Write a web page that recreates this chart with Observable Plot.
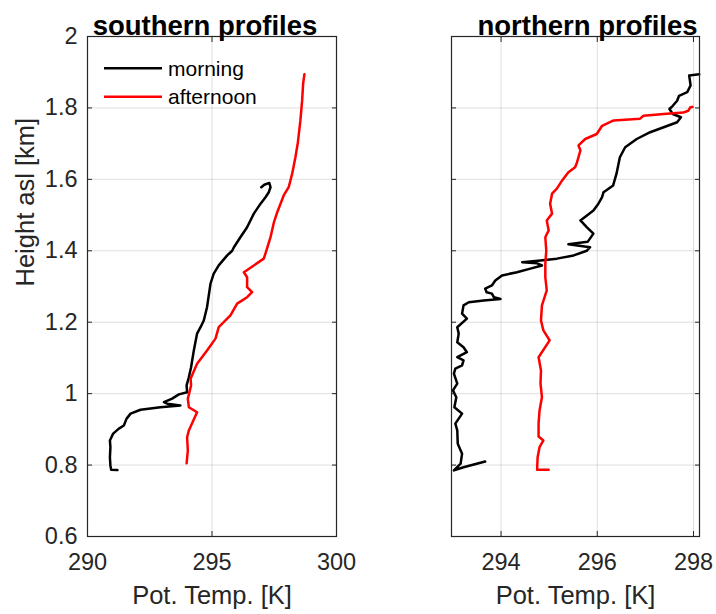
<!DOCTYPE html>
<html><head><meta charset="utf-8">
<script src="https://cdn.jsdelivr.net/npm/d3@7"></script>
<script src="https://cdn.jsdelivr.net/npm/@observablehq/plot@0.6"></script>
<style>
body{margin:0;background:#fff;}
#chart{position:relative;width:716px;height:614px;font-family:"Liberation Sans",Arial,Helvetica,sans-serif;}
#chart > svg{position:absolute;top:0;}
#legend{position:absolute;left:0;top:0;}
</style></head><body><div id="chart"></div>
<script>
// [potential temperature K, height asl km]
const southMorning = [[291.2,0.786],[290.95,0.787],[290.92,0.799],[290.9,0.822],[290.92,0.85],[290.9,0.869],[291.03,0.888],[291.26,0.902],[291.46,0.911],[291.57,0.93],[291.73,0.944],[292.13,0.955],[292.93,0.962],[293.73,0.967],[293.2,0.972],[293.07,0.976],[293.4,0.986],[293.67,0.998],[294.0,1.004],[293.98,1.023],[294.07,1.046],[294.16,1.074],[294.27,1.121],[294.4,1.168],[294.54,1.186],[294.67,1.205],[294.8,1.242],[294.94,1.308],[295.07,1.336],[295.27,1.359],[295.61,1.387],[295.81,1.40],[295.88,1.41],[296.14,1.438],[296.41,1.466],[296.68,1.504],[296.95,1.532],[297.15,1.55],[297.28,1.564],[297.35,1.578],[297.3,1.59],[297.1,1.585],[296.98,1.578]];
const southAfternoon = [[293.98,0.805],[294.03,0.841],[294.0,0.878],[294.07,0.897],[294.4,0.948],[294.07,0.962],[294.03,0.986],[294.16,1.023],[294.14,1.042],[294.4,1.084],[294.8,1.121],[295.14,1.154],[295.27,1.186],[295.74,1.219],[296.01,1.252],[296.41,1.27],[296.61,1.284],[296.41,1.298],[296.41,1.326],[296.28,1.34],[296.68,1.359],[297.08,1.378],[297.18,1.40],[297.35,1.438],[297.48,1.478],[297.62,1.508],[297.88,1.555],[298.08,1.578],[298.22,1.616],[298.35,1.662],[298.45,1.704],[298.55,1.765],[298.62,1.821],[298.66,1.868],[298.71,1.894]];
const northMorning = [[293.67,0.81],[293.22,0.794],[293.02,0.785],[293.16,0.804],[293.19,0.832],[293.1,0.86],[293.09,0.897],[293.05,0.916],[293.19,0.944],[293.03,0.962],[293.07,0.99],[293.0,1.009],[293.09,1.028],[293.02,1.056],[293.05,1.07],[293.19,1.079],[293.22,1.093],[293.09,1.102],[293.29,1.116],[293.22,1.13],[293.09,1.144],[293.12,1.168],[293.09,1.186],[293.29,1.21],[293.19,1.224],[293.22,1.247],[293.33,1.256],[293.64,1.261],[293.99,1.265],[293.85,1.27],[293.81,1.28],[293.7,1.284],[293.67,1.294],[293.81,1.303],[293.88,1.317],[294.02,1.331],[294.33,1.34],[294.61,1.35],[294.85,1.359],[294.75,1.365],[294.44,1.368],[294.82,1.373],[295.16,1.378],[295.51,1.387],[295.78,1.40],[295.85,1.41],[295.4,1.418],[295.8,1.425],[295.92,1.448],[295.78,1.466],[295.65,1.485],[295.92,1.513],[296.02,1.531],[296.1,1.55],[296.13,1.564],[296.33,1.583],[296.4,1.616],[296.47,1.662],[296.58,1.69],[296.82,1.713],[297.1,1.732],[297.38,1.746],[297.66,1.76],[297.74,1.774],[297.57,1.783],[297.5,1.797],[297.57,1.806],[297.66,1.82],[297.7,1.834],[297.87,1.844],[297.94,1.863],[297.91,1.891],[298.12,1.894]];
const northAfternoon = [[294.99,0.787],[294.75,0.787],[294.75,0.79],[294.76,0.822],[294.8,0.85],[294.88,0.869],[294.78,0.88],[294.78,0.916],[294.8,0.953],[294.85,0.99],[294.82,1.028],[294.83,1.065],[294.78,1.102],[295.01,1.149],[294.88,1.177],[294.83,1.205],[294.85,1.247],[294.95,1.289],[294.92,1.326],[294.92,1.364],[294.94,1.40],[294.92,1.438],[294.99,1.457],[294.95,1.485],[295.06,1.504],[295.02,1.532],[295.06,1.56],[295.16,1.574],[295.27,1.597],[295.4,1.62],[295.54,1.634],[295.58,1.648],[295.61,1.662],[295.65,1.681],[295.61,1.695],[295.75,1.713],[295.99,1.727],[296.1,1.75],[296.34,1.765],[296.89,1.77],[296.96,1.778],[297.38,1.783],[297.79,1.787],[297.89,1.792],[297.93,1.801],[297.98,1.803]];

const yTicks = [0.6,0.8,1,1.2,1.4,1.6,1.8,2];
const southXTicks = [290,295,300];
const northXTicks = [294,296,298];
const southXDomain = [290,300];
const northXDomain = [292.97,298.125];
const yDomain = [0.6,2];
const titles = ["southern profiles","northern profiles"];
const xLabel = "Pot. Temp. [K]";
const yLabel = "Height asl [km]";
const seriesNames = ["morning","afternoon"];
const seriesColors = ["#000000","#ff0000"];

const FONT = '"Liberation Sans",Arial,Helvetica,sans-serif';
const AX = "#262626";
const LW = 2.5;

function panel(o){
  const marks = [
    Plot.gridX(o.xTicks.filter(t => t > o.xDomain[0] && t < o.xDomain[1]), {stroke:AX, strokeOpacity:0.15}),
    Plot.gridY(yTicks.filter(t => t > yDomain[0] && t < yDomain[1]), {stroke:AX, strokeOpacity:0.15}),
    Plot.line(o.morning, {x:d=>d[0], y:d=>d[1], stroke:seriesColors[0], strokeWidth:LW, strokeLinejoin:"round"}),
    Plot.line(o.afternoon, {x:d=>d[0], y:d=>d[1], stroke:seriesColors[1], strokeWidth:LW, strokeLinejoin:"round"}),
    Plot.frame({stroke:AX, strokeWidth:1.2}),
    Plot.axisX(o.xTicks, {anchor:"bottom", tickSize:-5, tickPadding:22, fontSize:23.5, label:null, tickFormat:d=>String(d), stroke:AX, fill:AX}),
    Plot.axisX(o.xTicks, {anchor:"top", tickSize:-5, tickFormat:()=>"", label:null, stroke:AX}),
    Plot.axisY(yTicks, {anchor:"left", tickSize:-5, tickPadding:15, fontSize:23.5, label:null, tickFormat: o.showY ? (d=>String(d)) : (()=>""), stroke:AX, fill:AX}),
    Plot.axisY(yTicks, {anchor:"right", tickSize:-5, tickFormat:()=>"", label:null, stroke:AX}),
    Plot.text([o.title], {frameAnchor:"top", dy:-2, dx:o.titleDx, lineAnchor:"bottom", fontWeight:"bold", fontSize:27.5, fill:"#000"}),
    Plot.text([xLabel], {frameAnchor:"bottom", dy:67, lineAnchor:"bottom", fontSize:25.5, fill:AX})
  ];
  if (o.showY) marks.push(Plot.text([yLabel], {frameAnchor:"left", rotate:-90, dx:-62, fontSize:25.5, fill:AX}));
  const svg = Plot.plot({
    width:o.width, height:614, marginLeft:o.ml, marginRight:o.mr, marginTop:36, marginBottom:78,
    style:{fontFamily:FONT, background:"transparent", overflow:"visible"},
    x:{domain:o.xDomain}, y:{domain:yDomain},
    marks
  });
  svg.style.left = o.left + "px";
  return svg;
}

const chart = document.getElementById("chart");
chart.appendChild(panel({left:0, width:360, ml:87, mr:24, xDomain:southXDomain, xTicks:southXTicks, morning:southMorning, afternoon:southAfternoon, title:titles[0], titleDx:-7, showY:true}));
chart.appendChild(panel({left:360, width:356, ml:91, mr:17, xDomain:northXDomain, xTicks:northXTicks, morning:northMorning, afternoon:northAfternoon, title:titles[1], titleDx:12, showY:false}));

// legend
const ns = "http://www.w3.org/2000/svg";
const lg = document.createElementNS(ns, "svg");
lg.setAttribute("id","legend"); lg.setAttribute("width",716); lg.setAttribute("height",614);
lg.style.position="absolute"; lg.style.left="0"; lg.style.top="0"; lg.style.pointerEvents="none";
seriesNames.forEach((name,i)=>{
  const y = 68.3 + i*28.4;
  const l = document.createElementNS(ns,"line");
  l.setAttribute("x1",104); l.setAttribute("x2",162); l.setAttribute("y1",y); l.setAttribute("y2",y);
  l.setAttribute("stroke",seriesColors[i]); l.setAttribute("stroke-width",LW);
  lg.appendChild(l);
  const t = document.createElementNS(ns,"text");
  t.setAttribute("x",168); t.setAttribute("y",y); t.setAttribute("dy","0.35em");
  t.setAttribute("font-size",21); t.setAttribute("font-family",FONT); t.setAttribute("fill","#000");
  t.textContent = name;
  lg.appendChild(t);
});
chart.appendChild(lg);
</script></body></html>
